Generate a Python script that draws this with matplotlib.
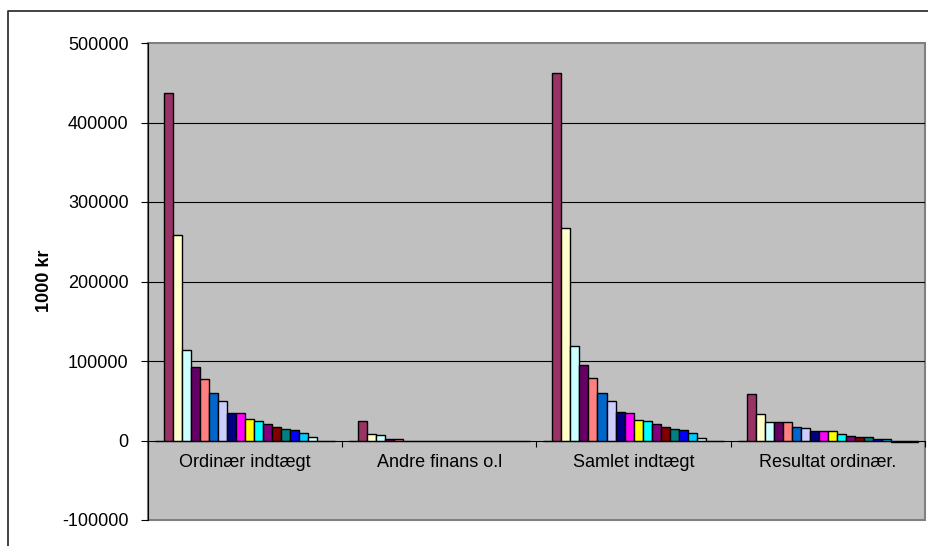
import matplotlib.pyplot as plt
from matplotlib.lines import Line2D
from matplotlib.patches import Rectangle

plt.rcParams['font.family'] = ['Liberation Sans', 'DejaVu Sans']

categories = ['Ordinær indtægt', 'Andre finans o.l', 'Samlet indtægt', 'Resultat ordinær.']

# one value per series (20 series) for each category
ordinaer = [0, 437000, 259000, 114000, 93000, 77000, 60000, 50000, 35000, 35000,
            26500, 25000, 20500, 17000, 15000, 13500, 9500, 4000, 0, 0]
andre_finans = [0, 25000, 8500, 6700, 1800, 1800, 0, 0, 0, 0,
                0, 0, 0, 0, 0, 0, 0, 0, 0, 0]
samlet = [0, 462000, 267000, 119000, 95000, 79000, 60000, 50000, 36000, 34500,
          26000, 25000, 20500, 17000, 15000, 13500, 9500, 3000, 0, 0]
resultat = [0, 58500, 33000, 23500, 23500, 23500, 17500, 15500, 12000, 12000,
            12000, 8000, 6000, 4500, 4500, 2000, 2000, -2500, -2500, -2500]

colors = ['#9999FF', '#993366', '#FFFFCC', '#CCFFFF', '#660066', '#FF8080', '#0066CC',
          '#CCCCFF', '#000080', '#FF00FF', '#FFFF00', '#00FFFF', '#800080', '#800000',
          '#008080', '#0000FF', '#00CCFF', '#CCFFFF', '#CCFFCC', '#FFFF99']

W, H = 929, 546
fig = plt.figure(figsize=(W / 100, H / 100), dpi=100)
ax = fig.add_axes([148 / W, 1 - 520 / H, 777 / W, 477 / H])
ax.set_facecolor('#C0C0C0')

data = [ordinaer, andre_finans, samlet, resultat]
n = len(colors)
w = 1 / (n + 1.5)
for k in range(n):
    vals = [d[k] for d in data]
    xs = [i + (k - (n - 1) / 2) * w for i in range(len(categories))]
    ax.bar(xs, vals, width=w, color=colors[k], edgecolor='black', linewidth=1.0, zorder=3)

ax.set_xlim(-0.5, len(categories) - 0.5)
ax.set_ylim(-100000, 500000)
yt = list(range(-100000, 500001, 100000))
ax.set_yticks(yt)
ax.set_yticklabels([str(v) for v in yt], fontsize=13)
for v in yt[2:-1]:
    ax.axhline(v, color='black', linewidth=0.8, zorder=1)

# category axis crosses at zero
ax.spines['bottom'].set_position(('data', 0))
ax.spines['bottom'].set_color('black')
ax.spines['bottom'].set_zorder(4)
ax.spines['left'].set_color('black')
ax.spines['top'].set_visible(False)
ax.spines['right'].set_visible(False)
ax.add_patch(Rectangle((0, 0), 1, 1, transform=ax.transAxes, fill=False,
                       edgecolor='#808080', linewidth=1.5, zorder=0.5, clip_on=False))

ax.set_xticks([i - 0.5 for i in range(len(categories) + 1)])
ax.set_xticklabels([])
ax.set_xticks(range(len(categories)), minor=True)
ax.set_xticklabels(categories, minor=True, fontsize=13)
ax.tick_params(axis='x', which='major', length=4, direction='out', color='black')
ax.tick_params(axis='x', which='minor', length=0, pad=10)
ax.tick_params(axis='y', length=5, direction='out', pad=9)

fig.text(45 / W, 1 - 281 / H, '1000 kr', rotation=90, ha='center', va='center',
         fontsize=13, fontweight='bold')

# outer chart border (cropped on the right and bottom)
fig.add_artist(Line2D([8 / W, 8 / W, 1.0], [0.0, 1 - 11 / H, 1 - 11 / H],
                      color='#333333', linewidth=1.3))

fig.savefig('out.png', dpi=100)
